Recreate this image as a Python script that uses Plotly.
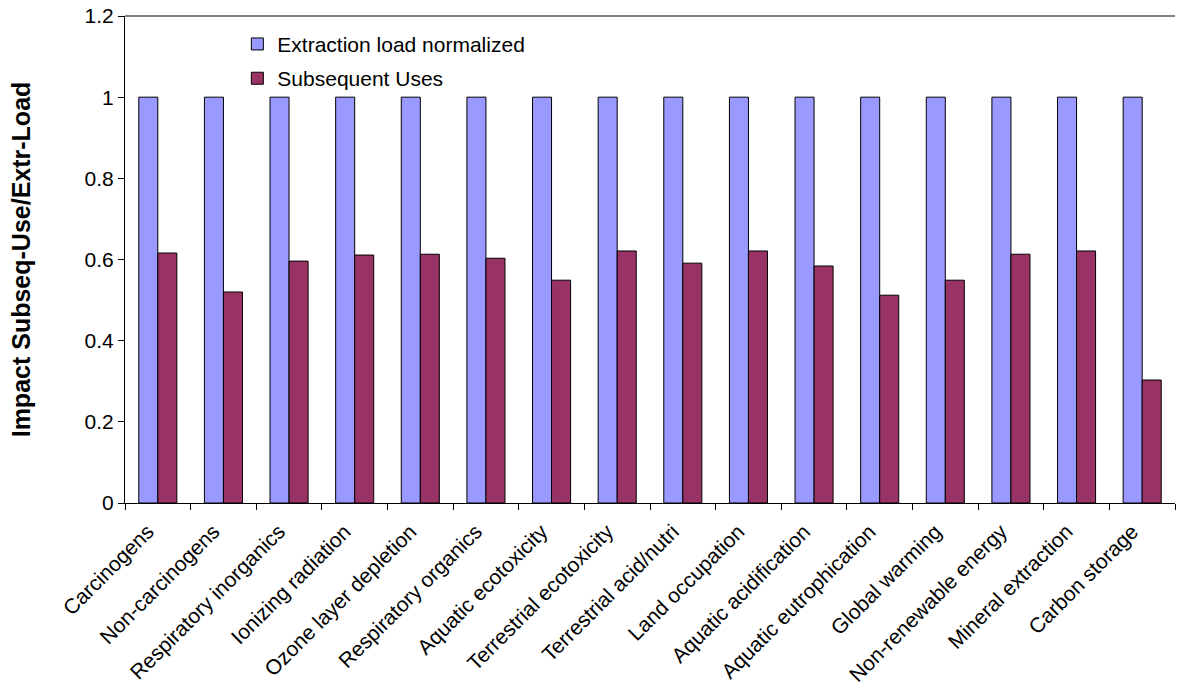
import plotly.graph_objects as go

categories = ["Carcinogens", "Non-carcinogens", "Respiratory inorganics", "Ionizing radiation",
              "Ozone layer depletion", "Respiratory organics", "Aquatic ecotoxicity",
              "Terrestrial ecotoxicity", "Terrestrial acid/nutri", "Land occupation",
              "Aquatic acidification", "Aquatic eutrophication", "Global warming",
              "Non-renewable energy", "Mineral extraction", "Carbon storage"]
extraction = [1.0] * 16
subsequent = [0.616, 0.520, 0.596, 0.611, 0.613, 0.603, 0.549, 0.621, 0.591, 0.621,
              0.584, 0.512, 0.549, 0.613, 0.621, 0.303]
y_ticks = [0, 0.2, 0.4, 0.6, 0.8, 1, 1.2]
y_tick_text = ["0", "0.2", "0.4", "0.6", "0.8", "1", "1.2"]

FONT = "Liberation Sans, Arial, sans-serif"

fig = go.Figure()
fig.add_trace(go.Bar(x=categories, y=extraction, name="Extraction load normalized",
                     marker=dict(color="#9999FF", line=dict(color="#000000", width=1)),
                     legendgroup="a"))
fig.add_trace(go.Bar(x=categories, y=subsequent, name="Subsequent Uses",
                     marker=dict(color="#993366", line=dict(color="#000000", width=1)),
                     legendgroup="b"))

fig.update_layout(
    width=1183, height=690,
    margin=dict(l=125, r=8, t=16, b=187),
    paper_bgcolor="white", plot_bgcolor="white",
    barmode="group", bargap=0.42, bargroupgap=0,
    font=dict(family=FONT, size=20, color="black"),
    showlegend=True,
    legend=dict(x=0.107, y=0.984, xanchor="left", yanchor="top",
                font=dict(family=FONT, size=21), bgcolor="rgba(0,0,0,0)",
                tracegroupgap=4, itemwidth=30),
    xaxis=dict(tickangle=-45, showline=True, linecolor="black", linewidth=1,
               ticks="outside", ticklen=6, tickcolor="black", tickson="boundaries",
               showgrid=False, tickfont=dict(family=FONT, size=21), automargin=False,
               ticklabelstandoff=7, ticklabelshift=-10),
    yaxis=dict(range=[0, 1.2], tickvals=y_ticks, ticktext=y_tick_text,
               showline=True, linecolor="black", linewidth=1, ticks="outside", ticklen=6,
               tickcolor="black", showgrid=False, zeroline=False,
               tickfont=dict(family=FONT, size=21), automargin=False,
               title=dict(text="<b>Impact Subseq-Use/Extr-Load</b>", font=dict(family=FONT, size=25),
                          standoff=46)),
)
fig.add_shape(type="line", xref="paper", yref="paper", x0=0, x1=1, y0=1, y1=1,
              line=dict(color="black", width=1))

fig.write_html("out.html", config={"displayModeBar": False},
               post_script="document.body.style.margin='0';document.body.style.overflow='hidden';")
